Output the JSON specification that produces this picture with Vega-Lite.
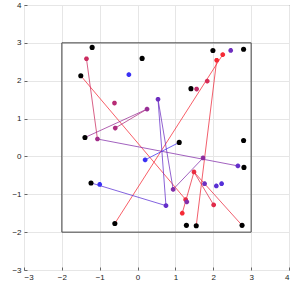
{
  "$schema": "https://vega.github.io/schema/vega-lite/v6.json",
  "width": 265,
  "height": 265,
  "autosize": {"type": "none"},
  "padding": {"left": 24, "top": 5, "right": 10, "bottom": 16},
  "background": "white",
  "config": {
    "view": {"stroke": "#666", "strokeWidth": 1},
    "axis": {
      "grid": true, "gridColor": "#e6e6e6", "gridWidth": 1,
      "domain": false, "tickColor": "#666", "tickSize": -3,
      "labelFont": "Liberation Sans", "labelFontSize": 8, "labelColor": "#222",
      "labelOverlap": false, "labelPadding": 6,
      "title": null
    }
  },
  "datasets": {
    "box": [{"x": -2, "x2": 3, "y": -2, "y2": 3}],
    "segs": [
      {"x1": -1.50, "y1": 2.13, "x2": 1.27, "y2": -1.14, "c": 0.05},
      {"x1": -1.35, "y1": 2.58, "x2": -1.06, "y2": 0.46, "c": 0.25},
      {"x1": -1.06, "y1": 0.46, "x2": 2.65, "y2": -0.25, "c": 0.6},
      {"x1": -1.39, "y1": 0.50, "x2": 0.25, "y2": 1.25, "c": 0.5},
      {"x1": 0.25, "y1": 1.25, "x2": -0.59, "y2": 0.75, "c": 0.4},
      {"x1": 2.25, "y1": 2.69, "x2": -0.60, "y2": -1.77, "c": 0.05},
      {"x1": 2.09, "y1": 2.54, "x2": 1.55, "y2": -1.83, "c": 0.08},
      {"x1": 0.54, "y1": 1.51, "x2": 0.75, "y2": -1.30, "c": 0.75},
      {"x1": 0.54, "y1": 1.51, "x2": 0.94, "y2": -0.87, "c": 0.7},
      {"x1": 0.75, "y1": -1.30, "x2": -1.23, "y2": -0.70, "c": 0.8},
      {"x1": 0.20, "y1": -0.09, "x2": 1.10, "y2": 0.37, "c": 0.92},
      {"x1": 0.94, "y1": -0.87, "x2": 1.73, "y2": -0.04, "c": 0.6},
      {"x1": 1.49, "y1": -0.41, "x2": 1.18, "y2": -1.50, "c": 0.1},
      {"x1": 1.49, "y1": -0.41, "x2": 2.01, "y2": -1.28, "c": 0.15},
      {"x1": 1.49, "y1": -0.41, "x2": 2.76, "y2": -1.82, "c": 0.1}
    ],
    "stars": [
      {"x": -1.35, "y": 2.58, "c": 0.25},
      {"x": -1.06, "y": 0.46, "c": 0.45},
      {"x": -0.61, "y": 1.41, "c": 0.35},
      {"x": -0.23, "y": 2.16, "c": 0.95},
      {"x": 0.25, "y": 1.25, "c": 0.5},
      {"x": -0.59, "y": 0.75, "c": 0.4},
      {"x": 0.54, "y": 1.51, "c": 0.7},
      {"x": 2.09, "y": 2.54, "c": 0.05},
      {"x": 2.25, "y": 2.69, "c": 0.05},
      {"x": 2.46, "y": 2.80, "c": 0.7},
      {"x": 1.84, "y": 1.99, "c": 0.2},
      {"x": 1.56, "y": 1.78, "c": 0.3},
      {"x": 0.20, "y": -0.09, "c": 0.95},
      {"x": 1.73, "y": -0.04, "c": 0.55},
      {"x": 2.65, "y": -0.25, "c": 0.75},
      {"x": 1.49, "y": -0.41, "c": 0.1},
      {"x": 1.77, "y": -0.72, "c": 0.7},
      {"x": 2.08, "y": -0.78, "c": 0.8},
      {"x": 2.22, "y": -0.72, "c": 0.82},
      {"x": 0.94, "y": -0.87, "c": 0.6},
      {"x": 1.27, "y": -1.14, "c": 0.1},
      {"x": 1.30, "y": -1.20, "c": 0.6},
      {"x": 2.01, "y": -1.28, "c": 0.15},
      {"x": 1.18, "y": -1.50, "c": 0.05},
      {"x": 0.75, "y": -1.30, "c": 0.75},
      {"x": -1.00, "y": -0.74, "c": 0.95}
    ],
    "dots": [
      {"x": -1.20, "y": 2.88}, {"x": -1.50, "y": 2.13}, {"x": 0.12, "y": 2.59},
      {"x": 1.99, "y": 2.80}, {"x": 2.80, "y": 2.83}, {"x": 1.41, "y": 1.79},
      {"x": -1.39, "y": 0.50}, {"x": 1.10, "y": 0.37}, {"x": 2.80, "y": 0.42},
      {"x": 2.81, "y": -0.29}, {"x": -1.23, "y": -0.70}, {"x": -0.60, "y": -1.77},
      {"x": 1.29, "y": -1.82}, {"x": 1.55, "y": -1.83}, {"x": 2.76, "y": -1.82}
    ]
  },
  "resolve": {"scale": {"color": "shared"}},
  "layer": [
    {
      "data": {"name": "box"},
      "mark": {"type": "rect", "fill": null, "fillOpacity": 0, "stroke": "#444", "strokeWidth": 1},
      "encoding": {
        "x": {"field": "x", "type": "quantitative", "scale": {"domain": [-3, 4], "nice": false, "zero": false}, "axis": {"values": [-3, -2, -1, 0, 1, 2, 3, 4], "format": "d", "tickCount": 8}},
        "x2": {"field": "x2"},
        "y": {"field": "y", "type": "quantitative", "scale": {"domain": [-3, 4], "nice": false, "zero": false}, "axis": {"values": [-3, -2, -1, 0, 1, 2, 3, 4], "format": "d", "tickCount": 8}},
        "y2": {"field": "y2"}
      }
    },
    {
      "data": {"name": "segs"},
      "mark": {"type": "rule", "strokeWidth": 1, "opacity": 0.75},
      "encoding": {
        "x": {"field": "x1", "type": "quantitative", "axis": {"values": [-3, -2, -1, 0, 1, 2, 3, 4], "format": "d", "tickCount": 8}},
        "y": {"field": "y1", "type": "quantitative", "axis": {"values": [-3, -2, -1, 0, 1, 2, 3, 4], "format": "d", "tickCount": 8}},
        "x2": {"field": "x2"},
        "y2": {"field": "y2"},
        "color": {"field": "c", "type": "quantitative", "scale": {"domain": [0, 1], "range": ["#ff2a2a", "#3030ff"], "interpolate": "rgb"}, "legend": null}
      }
    },
    {
      "data": {"name": "stars"},
      "mark": {"type": "point", "shape": "M-1,0L1,0M0,-1L0,1M-0.7,-0.7L0.7,0.7M-0.7,0.7L0.7,-0.7", "size": 22, "strokeWidth": 1.6, "filled": false, "opacity": 1},
      "encoding": {
        "x": {"field": "x", "type": "quantitative", "axis": {"values": [-3, -2, -1, 0, 1, 2, 3, 4], "format": "d", "tickCount": 8}},
        "y": {"field": "y", "type": "quantitative", "axis": {"values": [-3, -2, -1, 0, 1, 2, 3, 4], "format": "d", "tickCount": 8}},
        "color": {"field": "c", "type": "quantitative", "scale": {"domain": [0, 1], "range": ["#ff2a2a", "#3030ff"], "interpolate": "rgb"}, "legend": null}
      }
    },
    {
      "data": {"name": "dots"},
      "mark": {"type": "circle", "size": 26, "color": "black", "opacity": 1},
      "encoding": {
        "x": {"field": "x", "type": "quantitative", "axis": {"values": [-3, -2, -1, 0, 1, 2, 3, 4], "format": "d", "tickCount": 8}},
        "y": {"field": "y", "type": "quantitative", "axis": {"values": [-3, -2, -1, 0, 1, 2, 3, 4], "format": "d", "tickCount": 8}}
      }
    }
  ]
}
